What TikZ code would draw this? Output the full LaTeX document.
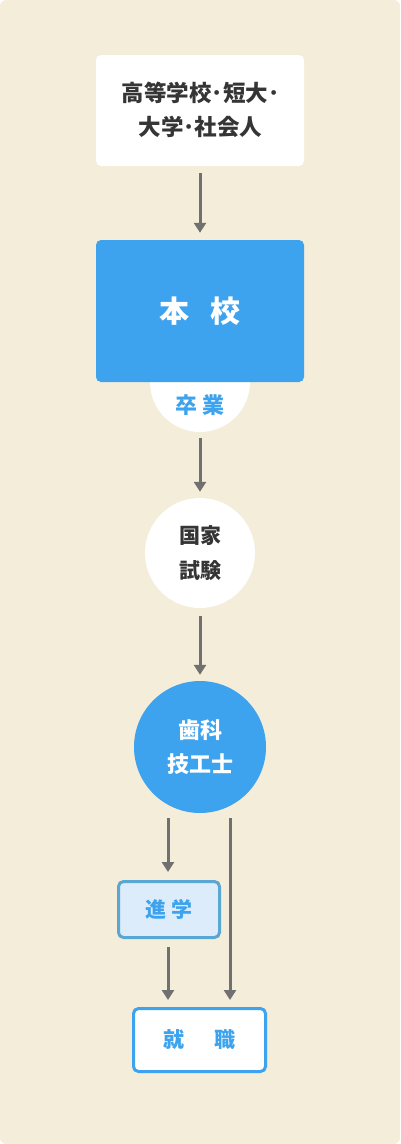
\documentclass[tikz,border=0pt]{standalone}
\usepackage{fontspec}
\newfontfamily\cjk{Noto Sans CJK JP}
\usetikzlibrary{arrows.meta}
\definecolor{bgc}{HTML}{F4EDD9}
\definecolor{bluec}{HTML}{3DA3EE}
\definecolor{txtc}{HTML}{353535}
\definecolor{arrc}{HTML}{707070}
\definecolor{lbfill}{HTML}{DDECFA}
\definecolor{lbline}{HTML}{5AA7D4}
\tikzset{
  lbl/.style={font=\cjk\bfseries, align=center, inner sep=0pt},
  flow/.style={draw=arrc, line width=3pt, -{Triangle[width=12pt,length=10pt]}},
}
\begin{document}
\begin{tikzpicture}[x=1pt,y=-1pt]
\useasboundingbox (0,0) rectangle (400,1144);
\fill[bgc,rounded corners=6pt] (0,0) rectangle (400,1144);
% boxes
\node[fill=white, rounded corners=5pt, minimum width=208pt, minimum height=111pt] (src) at (200,110.5) {};
\node[lbl, text=txtc, font=\cjk\bfseries\fontsize{22.5}{34}\selectfont] (srct) at (200.5,110)
      {高等学校･短大･\\大学･社会人};
\node[lbl, circle, fill=white, minimum size=100pt] (grad) at (200,382) {};
\node[lbl, fill=bluec, rounded corners=5pt, minimum width=208pt, minimum height=142pt,
      text=white, font=\cjk\bfseries\fontsize{30}{36}\selectfont] (main) at (200,311)
      {本\hspace{22pt}校};
\node[lbl, text=bluec, font=\cjk\bfseries\fontsize{22}{26}\selectfont] (gradt) at (200,405)
      {卒\hspace{5pt}業};
\node[lbl, circle, fill=white, minimum size=110pt, text=txtc,
      font=\cjk\bfseries\fontsize{21}{35}\selectfont] (exam) at (200,553) {国家\\試験};
\node[lbl, circle, fill=bluec, minimum size=132pt, text=white,
      font=\cjk\bfseries\fontsize{22}{34}\selectfont] (tech) at (200,747) {歯科\\技工士};
\node[lbl, draw=lbline, fill=lbfill, line width=3pt, rounded corners=5pt,
      minimum width=101pt, minimum height=56pt, text=bluec,
      font=\cjk\bfseries\fontsize{21}{26}\selectfont] (adv) at (169,909.5)
      {進\hspace{6pt}学};
\node[lbl, draw=bluec, fill=white, line width=3pt, rounded corners=5pt,
      minimum width=132pt, minimum height=63pt, text=bluec,
      font=\cjk\bfseries\fontsize{21}{26}\selectfont] (job) at (199.5,1040)
      {就\hspace{30pt}職};
% connectors
\draw[flow, shorten <=7pt, shorten >=7pt] (src.south) -- (main.north);
\draw[flow, shorten <=6pt, shorten >=6pt] (grad.south) -- (exam.north);
\draw[flow, shorten <=8pt, shorten >=6pt] (exam.south) -- (tech.north);
\coordinate (tl) at (168,818);
\coordinate (tr) at (230,818);
\draw[flow, shorten >=8pt] (tl) -- (tl |- adv.north);
\draw[flow, shorten >=7pt] (tr) -- (tr |- job.north);
\draw[flow, shorten <=8pt, shorten >=7pt] (adv.south -| tl) -- (tl |- job.north);
\end{tikzpicture}
\end{document}
